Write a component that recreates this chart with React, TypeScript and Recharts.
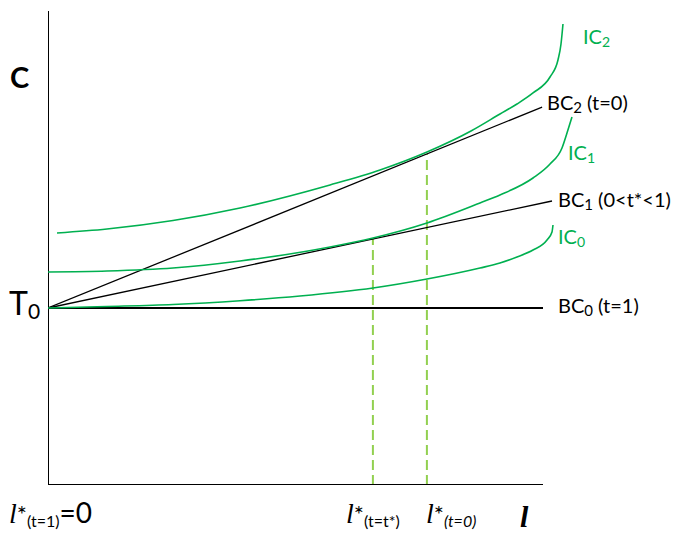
import React from "react";
import { LineChart, Line, XAxis, YAxis } from "recharts";

// ---- data (economic units: l on x, C on y) ----
const AXIS_X_END = 11.0;
const AXIS_Y_END = 10.71;

const bc0X = [0, 11.0];
const bc0Y = [4, 4];
const bc1X = [0, 11.2];
const bc1Y = [4, 6.418];
const bc2X = [0, 10.98];
const bc2Y = [4, 8.54];

const ic0X = [0, 1.311, 2.778, 4.267, 5.6, 7.222, 8.422, 9.6, 10.044, 10.422, 10.778, 11.089, 11.2, 11.222];
const ic0Y = [4.0, 4.034, 4.079, 4.165, 4.271, 4.452, 4.655, 4.904, 5.017, 5.153, 5.311, 5.537, 5.718, 5.876];
const ic1X = [0, 1.311, 2.778, 4.267, 6.267, 7.222, 8.422, 9.6, 10.044, 10.778, 11.156, 11.422, 11.533, 11.644];
const ic1Y = [4.814, 4.836, 4.904, 5.062, 5.379, 5.582, 5.921, 6.373, 6.554, 6.938, 7.254, 7.616, 7.955, 8.316];
const ic2X = [0.2, 1.311, 2.778, 4.267, 6.267, 7.378, 8.422, 9.4, 10.044, 10.422, 10.778, 11.156, 11.333, 11.4, 11.444];
const ic2Y = [5.695, 5.785, 5.977, 6.26, 6.78, 7.119, 7.525, 8.0, 8.384, 8.61, 8.859, 9.22, 9.605, 9.966, 10.418];

const tangentX = [7.22, 8.42];
const tangentY = [5.558, 7.48];

const zip = (xs: number[], ys: number[]) => xs.map((x, i) => ({ x, y: ys[i] }));

const axisX = zip([0, AXIS_X_END], [0, 0]);
const axisY = zip([0, 0], [0, AXIS_Y_END]);
const dash1 = zip([tangentX[0], tangentX[0]], [0, tangentY[0]]);
const dash2 = zip([tangentX[1], tangentX[1]], [0, tangentY[1]]);

const GREEN = "#00B050";
const DASH_GREEN = "#92D050";
const FONT = "Lato, 'Open Sans', sans-serif";
const LFONT = "'Liberation Serif', serif";

export default function App() {
  const W = 679;
  const H = 534;
  return (
    <div style={{ position: "absolute", left: 0, top: 0, width: W, height: H, background: "#fff" }}>
      <LineChart
        width={W}
        height={H}
        margin={{ top: 7.1, right: 91, bottom: 49, left: 48 }}
      >
        <XAxis type="number" dataKey="x" domain={[0, 12]} hide allowDataOverflow />
        <YAxis type="number" dataKey="y" domain={[0, 10.8]} hide allowDataOverflow />
        <Line data={dash1} dataKey="y" stroke={DASH_GREEN} strokeWidth={2} strokeDasharray="10 5" dot={false} isAnimationActive={false} />
        <Line data={dash2} dataKey="y" stroke={DASH_GREEN} strokeWidth={2} strokeDasharray="10 5" dot={false} isAnimationActive={false} />
        <Line data={axisX} dataKey="y" stroke="#000" strokeWidth={2} dot={false} isAnimationActive={false} />
        <Line data={axisY} dataKey="y" stroke="#000" strokeWidth={2} dot={false} isAnimationActive={false} />
        <Line data={zip(bc0X, bc0Y)} dataKey="y" stroke="#000" strokeWidth={2} dot={false} isAnimationActive={false} />
        <Line data={zip(bc1X, bc1Y)} dataKey="y" stroke="#000" strokeWidth={1.3} dot={false} isAnimationActive={false} />
        <Line data={zip(bc2X, bc2Y)} dataKey="y" stroke="#000" strokeWidth={1.3} dot={false} isAnimationActive={false} />
        <Line data={zip(ic0X, ic0Y)} type="monotone" dataKey="y" stroke={GREEN} strokeWidth={1.6} dot={false} isAnimationActive={false} />
        <Line data={zip(ic1X, ic1Y)} type="monotone" dataKey="y" stroke={GREEN} strokeWidth={1.6} dot={false} isAnimationActive={false} />
        <Line data={zip(ic2X, ic2Y)} type="monotone" dataKey="y" stroke={GREEN} strokeWidth={1.6} dot={false} isAnimationActive={false} />
      </LineChart>
      <svg
        width={W}
        height={H}
        style={{ position: "absolute", left: 0, top: 0, pointerEvents: "none" }}
        fontFamily={FONT}
      >
        <text x={10} y={88} fontSize={29} fontWeight="bold" fill="#000">C</text>
        <text x={9} y={315} fontSize={32} fill="#000">
          T<tspan fontSize={21} dy={4}>0</tspan>
        </text>

        <text x={583} y={44} fontSize={20} fill={GREEN}>
          IC<tspan fontSize={14} dy={3}>2</tspan>
        </text>
        <text x={547} y={110} fontSize={20} fill="#000">
          BC<tspan fontSize={15} dy={3}>2</tspan><tspan dy={-3}> (t=0)</tspan>
        </text>
        <text x={568} y={160} fontSize={20} fill={GREEN}>
          IC<tspan fontSize={14} dy={3}>1</tspan>
        </text>
        <text x={558} y={207} fontSize={20} fill="#000">
          BC<tspan fontSize={15} dy={3}>1</tspan><tspan dy={-3}> (0&lt;t*&lt;1)</tspan>
        </text>
        <text x={558} y={244} fontSize={20} fill={GREEN}>
          IC<tspan fontSize={14} dy={3}>0</tspan>
        </text>
        <text x={558} y={313} fontSize={20} fill="#000">
          BC<tspan fontSize={15} dy={3}>0</tspan><tspan dy={-3}> (t=1)</tspan>
        </text>

        <text x={9} y={523} fontSize={26} fill="#000">
          <tspan fontStyle="italic" fontFamily={LFONT} fontSize={28}>l</tspan>
          <tspan fontSize={24}>*</tspan>
          <tspan fontSize={16} dy={4}>(t=1)</tspan>
          <tspan fontSize={28} dy={-4}>=0</tspan>
        </text>
        <text x={346} y={523} fontSize={26} fill="#000">
          <tspan fontStyle="italic" fontFamily={LFONT} fontSize={28}>l</tspan>
          <tspan fontSize={24}>*</tspan>
          <tspan fontSize={16} dy={4}>(t=t*)</tspan>
        </text>
        <text x={426} y={523} fontSize={26} fill="#000">
          <tspan fontStyle="italic" fontFamily={LFONT} fontSize={28}>l</tspan>
          <tspan fontSize={24}>*</tspan>
          <tspan fontSize={16} dy={4} fontStyle="italic">(t=0)</tspan>
        </text>
        <text x={520} y={526.5} fontSize={30} fontWeight="bold" fontStyle="italic" fontFamily={LFONT} fill="#000">l</text>
      </svg>
    </div>
  );
}
